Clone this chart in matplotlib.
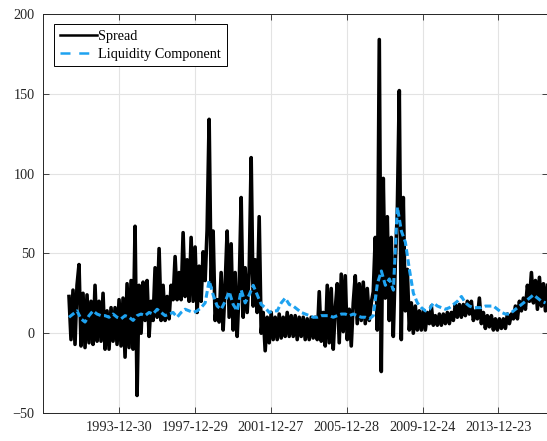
import numpy as np
import matplotlib
matplotlib.use("Agg")
import matplotlib.pyplot as plt

# spread, every ~0.1 year (1991.35 .. 2016.55)
spread = [23, -4, 27, -7, 30, 43, -8, 25, -9, 24,
          -6, 20, -7, 30, -5, 20, -5, 25, -10, 14,
          -10, 16, -5, 16, -7, 21, -8, 22, -15, 31,
          -9, 33, -10, 67, -39, 30, 0, 32, 8, 33,
          -2, 20, 8, 41, 10, 53, 8, 30, 8, 23,
          9, 30, 21, 48, 21, 38, 21, 63, 23, 46,
          20, 60, 20, 54, 13, 42, 20, 51, 33, 65,
          134, 30, 64, 8, 21, 7, 38, 2, 30, 64,
          10, 56, 2, 38, -2, 28, 85, 10, 41, 13,
          38, 110, 17, 46, 13, 73, 0, 13, -11, 10,
          -6, 13, -4, 10, -4, 12, -3, 10, -2, 13,
          -2, 11, -2, 11, -4, 10, -2, 10, -4, 9,
          -4, 10, -3, 10, -4, 26, -5, 13, -8, 30,
          -6, 28, -10, 15, 31, -6, 37, 1, 36, -4,
          15, -8, 19, 36, 6, 31, 8, 32, 6, 28,
          8, 19, 26, 60, 2, 184, -24, 97, 22, 73,
          8, 60, -2, 44, 76, 152, -4, 85, 14, 40,
          2, 19, 0, 17, 2, 14, 2, 14, 2, 13,
          6, 17, 5, 11, 5, 12, 5, 12, 6, 13,
          6, 13, 8, 18, 10, 18, 10, 18, 11, 20,
          12, 20, 8, 14, 9, 22, 6, 13, 3, 11,
          4, 11, 2, 9, 2, 9, 3, 9, 3, 12,
          6, 12, 9, 17, 9, 20, 14, 22, 15, 30,
          20, 38, 19, 33, 15, 35, 17, 31, 14, 30]

# liquidity component, coarser sampling (1991.35 .. 2016.45)
liquidity = [10, 12, 14, 9, 7, 11, 14, 12, 11, 11,
             10, 12, 10, 9, 11, 10, 8, 11, 12, 11,
             13, 12, 15, 13, 11, 12, 13, 10, 13, 15,
             14, 13, 14, 16, 19, 33, 24, 17, 15, 20,
             26, 18, 14, 27, 19, 24, 30, 24, 18, 16,
             13, 14, 14, 19, 22, 18, 17, 15, 13, 12,
             11, 10, 10, 11, 11, 11, 10, 11, 12, 12,
             11, 12, 11, 10, 10, 9, 11, 31, 39, 30,
             34, 27, 79, 64, 57, 40, 25, 19, 16, 14,
             15, 19, 17, 16, 15, 16, 18, 20, 23, 19,
             17, 16, 16, 16, 17, 17, 17, 15, 13, 12,
             12, 14, 16, 18, 20, 22, 24, 22, 20, 19]

tick_pos = [1993.99, 1997.99, 2001.98, 2005.98, 2009.98, 2013.97]
tick_labels = ['1993-12-30', '1997-12-29', '2001-12-27',
               '2005-12-28', '2009-12-24', '2013-12-23']

spread_x = np.linspace(1991.35, 2016.55, len(spread))
liq_x = np.linspace(1991.35, 2016.45, len(liquidity))

plt.rcParams['font.family'] = ['Liberation Serif', 'DejaVu Serif']
plt.rcParams['font.size'] = 10.3

fig = plt.figure(figsize=(5.47, 4.41), dpi=100)
ax = fig.add_axes([43/547, 28/441, 505/547, 399/441])

ax.plot(spread_x, spread, color='black', lw=2.6, label='Spread')
ax.plot(liq_x, liquidity, color='#1ea2f0', lw=2.2, linestyle=(0, (2.2, 1.1)),
        label='Liquidity Component')

ax.set_xlim(1989.98, 2016.58)
ax.set_ylim(-50, 200)
ax.set_xticks(tick_pos)
ax.set_xticklabels(tick_labels)
ax.set_yticks([-50, 0, 50, 100, 150, 200])

ax.grid(True, color='#e3e3e3', lw=0.8)
ax.set_axisbelow(True)
ax.tick_params(direction='in', top=True, right=True, length=4,
               width=0.6, color='#262626', labelcolor='#262626', pad=6)
for s in ax.spines.values():
    s.set_color('#262626')
    s.set_linewidth(0.7)

leg = ax.legend(loc='upper left', bbox_to_anchor=(0.022, 0.975),
                borderaxespad=0, handlelength=2.6, handletextpad=0.1,
                borderpad=0.4, labelspacing=0.35, fancybox=False,
                framealpha=1)
leg.get_frame().set_edgecolor('black')
leg.get_frame().set_linewidth(0.7)
leg.get_lines()[0].set_linewidth(1.8)
leg.get_lines()[1].set_linewidth(1.8)
leg.get_lines()[1].set_linestyle((0, (4, 3.5)))

fig.savefig('out.png', dpi=100)
